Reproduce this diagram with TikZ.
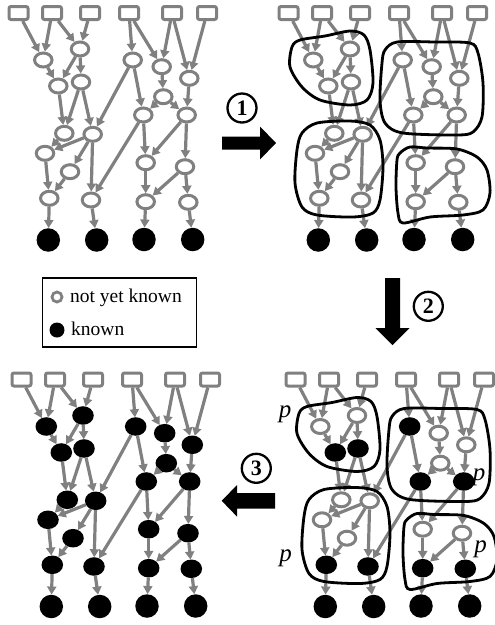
\documentclass[tikz,border=0pt]{standalone}
\usepackage{fontspec}
\setmainfont{Liberation Serif}
\usetikzlibrary{arrows.meta,shapes.geometric}
\definecolor{mygray}{RGB}{128,128,128}
\tikzset{
  un/.style={ellipse,draw=mygray,line width=3pt,minimum width=17.5pt,minimum height=14pt,inner sep=0pt},
  kn/.style={ellipse,draw=black,fill=black,line width=3pt,minimum width=18.5pt,minimum height=15.5pt,inner sep=0pt},
  nd/.style={un,stq#1/.try},
  sq/.style={rectangle,draw=mygray,line width=3pt,minimum width=19pt,minimum height=13pt,rounded corners=2pt,inner sep=0pt},
  bk/.style={circle,fill=black,minimum size=23.5pt,inner sep=0pt},
  ed/.style={draw=mygray,line width=3.2pt,-{Triangle[length=8pt,width=9pt]}},
  blob/.style={draw=black,line width=2.8pt},
  bigarrow/.style={fill=black},
  circ/.style={circle,draw=black,line width=2.3pt,minimum size=29pt,inner sep=0pt,font=\fontsize{22}{22}\selectfont\bfseries},
  plab/.style={inner sep=0pt,font=\fontsize{25}{25}\selectfont\itshape},
  legtext/.style={anchor=base west,inner sep=0pt,font=\fontsize{19.5}{19.5}\selectfont},
}
\newcommand\dagpic{%
  \node[sq] (s1) at (18.5,13) {};
  \node[sq] (s2) at (52,13) {};
  \node[sq] (s3) at (90,13) {};
  \node[sq] (s4) at (129,13) {};
  \node[sq] (s5) at (172,13) {};
  \node[sq] (s6) at (207,13) {};
  \node[nd=A] (A) at (43.3,60) {};
  \node[nd=B] (B) at (80,49) {};
  \node[nd=C] (C) at (58.3,86) {};
  \node[nd=D] (D) at (81,82) {};
  \node[nd=E] (E) at (132.7,60) {};
  \node[nd=F] (F) at (161.7,66.7) {};
  \node[nd=G] (G) at (189.3,78.3) {};
  \node[nd=H] (H) at (163.3,96.7) {};
  \node[nd=I] (I) at (143.3,115) {};
  \node[nd=J] (J) at (186.7,115) {};
  \node[nd=K] (K) at (64.3,133.3) {};
  \node[nd=L] (L) at (92.7,134.3) {};
  \node[nd=M] (M) at (45,153.3) {};
  \node[nd=N] (N) at (70,171.7) {};
  \node[nd=O] (O) at (145.7,162.7) {};
  \node[nd=P] (P) at (185,166.7) {};
  \node[nd=Q] (Q) at (49.3,198.3) {};
  \node[nd=R] (R) at (91,200) {};
  \node[nd=S] (S) at (145.7,201.7) {};
  \node[nd=T] (T) at (188.3,202.3) {};
  \node[bk] (b1) at (48.3,240) {};
  \node[bk] (b2) at (96.7,240) {};
  \node[bk] (b3) at (144,239.5) {};
  \node[bk] (b4) at (192.7,239.5) {};
  \foreach \a/\b in {s1/A,s2/A,s2/B,s3/B,s4/E,s4/F,s5/F,s5/G,s6/G,
      A/C,B/C,B/D,C/K,D/K,D/L,E/L,E/I,F/H,H/I,H/J,G/J,
      K/M,L/M,L/N,L/R,I/R,I/O,J/O,J/P,M/Q,N/Q,O/S,P/S,P/T,
      Q/b1,R/b2,S/b3,T/b4}
    {\draw[ed] (\a) -- (\b);}
}
\newcommand\blobset{%
  \draw[blob] plot[smooth cycle] coordinates {(22,47) (30,40) (55,36) (80,31) (94,35) (100,50) (103,83) (97,100) (80,105) (50,100) (32,87) (20,67)};
  \draw[blob] plot[smooth cycle] coordinates {(115,50) (127,42) (165,42) (200,43) (208,53) (213,83) (212,117) (203,132) (187,135) (133,133) (115,123) (110,100) (112,63)};
  \draw[blob] plot[smooth cycle] coordinates {(32,133) (47,123) (80,121) (100,125) (110,140) (113,167) (110,200) (103,213) (83,217) (47,215) (32,207) (25,183) (27,150)};
  \draw[blob] plot[smooth cycle] coordinates {(130,153) (140,147) (157,148) (187,149) (207,157) (217,170) (220,193) (213,210) (193,215) (160,217) (133,223) (128,213) (126,187) (127,160)};
}
\begin{document}
\begin{tikzpicture}[x=1pt,y=-1pt]
\useasboundingbox (0,0) rectangle (495,625);
% top-left
\begin{scope}[name prefix=tl-]
  \dagpic
\end{scope}
% top-right
\begin{scope}[shift={(270,0)},name prefix=tr-]
  \dagpic
  \blobset
\end{scope}
% bottom-left
\begin{scope}[shift={(3,366.5)},name prefix=bl-,un/.style={kn}]
  \dagpic
\end{scope}
% bottom-right
\begin{scope}[shift={(277,366.5)},name prefix=br-,
   stqC/.style={kn},stqD/.style={kn},stqE/.style={kn},stqI/.style={kn},stqJ/.style={kn},
   stqQ/.style={kn},stqR/.style={kn},stqS/.style={kn},stqT/.style={kn}]
  \dagpic
  \blobset
  \node[plab] (p1) at (8,47.5) {p};
  \node[plab] (p2) at (202,111) {p};
  \node[plab] (p3) at (8.7,192) {p};
  \node[plab] (p4) at (203.7,182.5) {p};
\end{scope}
% step arrows
\fill[bigarrow] (222,136.5) -- (260,136.5) -- (260,126.5) -- (276,143) -- (260,159.5) -- (260,149.5) -- (222,149.5) -- cycle;
\node[circ] (c1) at (242,108) {1};
\fill[bigarrow] (385,278) -- (400,278) -- (400,328) -- (409.5,328) -- (392.5,345) -- (375.5,328) -- (385,328) -- cycle;
\node[circ] (c2) at (428.3,306.3) {2};
\fill[bigarrow] (275,493) -- (237,493) -- (237,485) -- (221.7,500.8) -- (237,516.6) -- (237,508.5) -- (275,508.5) -- cycle;
\node[circ] (c3) at (256.3,468.3) {3};
% legend
\node[draw=black,line width=1.3pt,minimum width=154pt,minimum height=69pt,inner sep=0pt] (legend) at (119.7,312.5) {};
\node[circle,draw=mygray,line width=2.8pt,minimum size=10pt,inner sep=0pt] (lg1) at (57,297) {};
\node[circle,fill=black,minimum size=15pt,inner sep=0pt] (lg2) at (57,330) {};
\node[legtext] (lt1) at (70,302.3) {not yet known};
\node[legtext] (lt2) at (71,335) {known};
\end{tikzpicture}
\end{document}
